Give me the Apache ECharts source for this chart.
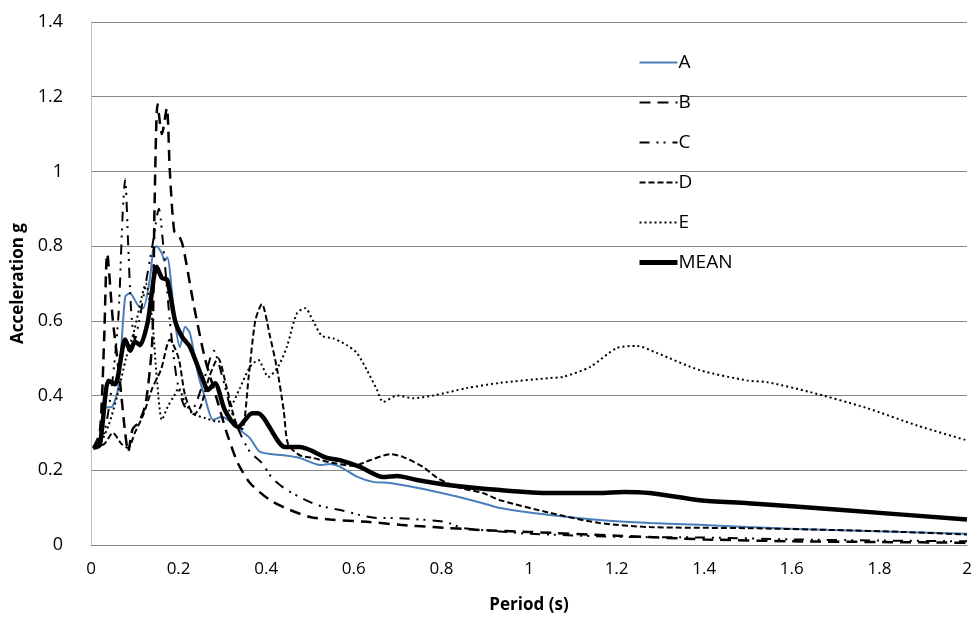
<!DOCTYPE html>
<html>
<head>
<meta charset="utf-8">
<script src="https://cdn.jsdelivr.net/npm/echarts@6/dist/echarts.min.js"></script>
<style>
  html, body { margin: 0; padding: 0; background: #fff; }
  #chart { width: 975px; height: 620px; }
</style>
</head>
<body>
<div id="chart"></div>
<script>
// period (s) and acceleration (g), one pair of arrays per record
var periodA = [0.005,0.016,0.032,0.048,0.062,0.078,0.089,0.107,0.119,0.135,0.142,0.15,0.162,0.168,0.174,0.192,0.203,0.215,0.226,0.244,0.26,0.279,0.299,0.322,0.345,0.363,0.386,0.44,0.477,0.523,0.546,0.568,0.607,0.644,0.683,0.744,0.82,0.895,0.934,1.048,1.16,1.276,1.39,1.5,1.69,2.0];
var accA    = [0.26,0.262,0.367,0.37,0.42,0.664,0.674,0.642,0.634,0.717,0.79,0.8,0.78,0.76,0.77,0.594,0.53,0.584,0.567,0.46,0.396,0.335,0.343,0.326,0.303,0.286,0.249,0.24,0.233,0.214,0.217,0.21,0.183,0.169,0.166,0.153,0.134,0.112,0.099,0.08,0.067,0.059,0.054,0.048,0.04,0.03];

var periodB = [0.005,0.02,0.03,0.037,0.05,0.065,0.078,0.085,0.095,0.11,0.125,0.14,0.145,0.152,0.162,0.173,0.18,0.19,0.2,0.21,0.235,0.26,0.285,0.31,0.335,0.363,0.409,0.454,0.5,0.546,0.63,0.705,0.78,0.895,1.0,1.2,1.4,1.6,1.8,2.0];
var accB    = [0.26,0.3,0.55,0.78,0.6,0.45,0.3,0.25,0.31,0.33,0.38,0.55,0.9,1.18,1.1,1.17,1.0,0.84,0.83,0.8,0.64,0.5,0.4,0.3,0.22,0.166,0.12,0.094,0.075,0.068,0.062,0.054,0.048,0.04,0.035,0.025,0.015,0.01,0.008,0.006];

var periodC = [0.005,0.03,0.05,0.063,0.072,0.078,0.085,0.092,0.1,0.11,0.125,0.14,0.155,0.165,0.18,0.195,0.21,0.226,0.24,0.26,0.28,0.3,0.32,0.34,0.363,0.39,0.413,0.44,0.477,0.516,0.546,0.58,0.614,0.655,0.69,0.728,0.808,0.85,0.95,1.0,1.2,1.4,1.6,1.8,2.0];
var accC    = [0.26,0.3,0.45,0.62,0.88,0.98,0.8,0.62,0.55,0.6,0.7,0.8,0.9,0.8,0.6,0.45,0.38,0.355,0.38,0.45,0.52,0.45,0.36,0.3,0.249,0.22,0.18,0.153,0.128,0.107,0.099,0.091,0.08,0.072,0.072,0.07,0.062,0.045,0.035,0.03,0.022,0.02,0.015,0.012,0.01];

var periodD = [0.005,0.03,0.05,0.07,0.085,0.1,0.12,0.14,0.16,0.18,0.2,0.215,0.235,0.25,0.27,0.29,0.31,0.33,0.345,0.36,0.375,0.39,0.409,0.425,0.44,0.45,0.477,0.507,0.55,0.6,0.637,0.683,0.712,0.758,0.79,0.836,0.895,0.934,1.048,1.16,1.276,1.5,1.7,1.85,2.0];
var accD    = [0.26,0.27,0.3,0.27,0.26,0.3,0.35,0.42,0.47,0.55,0.5,0.4,0.35,0.37,0.45,0.5,0.42,0.33,0.31,0.45,0.6,0.645,0.557,0.47,0.36,0.27,0.24,0.233,0.22,0.212,0.227,0.243,0.236,0.209,0.18,0.155,0.139,0.12,0.086,0.059,0.048,0.045,0.04,0.035,0.028];

var periodE = [0.005,0.02,0.04,0.06,0.08,0.1,0.115,0.125,0.14,0.15,0.162,0.175,0.19,0.2,0.215,0.235,0.26,0.29,0.315,0.34,0.363,0.382,0.405,0.427,0.447,0.47,0.489,0.507,0.527,0.553,0.584,0.607,0.63,0.653,0.667,0.699,0.735,0.781,0.858,0.934,1.048,1.078,1.14,1.2,1.246,1.292,1.39,1.5,1.543,1.64,1.77,1.886,2.0];
var accE    = [0.26,0.27,0.32,0.4,0.5,0.58,0.66,0.7,0.6,0.45,0.335,0.37,0.4,0.42,0.38,0.35,0.34,0.33,0.36,0.42,0.477,0.495,0.45,0.477,0.53,0.62,0.634,0.6,0.56,0.553,0.535,0.514,0.468,0.415,0.383,0.4,0.393,0.4,0.42,0.434,0.447,0.45,0.477,0.527,0.533,0.514,0.468,0.44,0.436,0.41,0.367,0.32,0.28];

var periodMean = [0.005,0.02,0.04,0.055,0.078,0.09,0.1,0.112,0.13,0.15,0.162,0.174,0.192,0.208,0.226,0.253,0.267,0.283,0.306,0.336,0.368,0.381,0.443,0.477,0.539,0.568,0.614,0.667,0.699,0.744,0.82,0.934,1.048,1.16,1.215,1.276,1.39,1.5,1.7,2.0];
var accMean    = [0.26,0.268,0.44,0.43,0.55,0.52,0.545,0.535,0.6,0.745,0.715,0.71,0.6,0.557,0.53,0.45,0.415,0.433,0.36,0.316,0.353,0.353,0.262,0.262,0.233,0.227,0.209,0.182,0.185,0.174,0.16,0.147,0.139,0.139,0.142,0.139,0.12,0.112,0.095,0.068];

var names = ['A', 'B', 'C', 'D', 'E', 'MEAN'];

function pairs(xs, ys) {
  var out = [];
  for (var i = 0; i < xs.length; i++) out.push([xs[i], ys[i]]);
  return out;
}

function line(name, xs, ys, color, width, dash) {
  return {
    name: name,
    type: 'line',
    data: pairs(xs, ys),
    smooth: 0.25,
    symbol: 'none',
    lineStyle: { color: color, width: width, type: dash },
    itemStyle: { color: color }
  };
}

var myChart = echarts.init(document.getElementById('chart'));

var option = {
  backgroundColor: '#fff',
  animation: false,
  grid: { left: 91, right: 8, top: 22, bottom: 75 },
  legend: {
    data: names.map(function (n) {
      return n === 'MEAN' ? { name: n, lineStyle: { width: 5 } } : { name: n };
    }),
    orient: 'vertical',
    left: 632,
    top: 48,
    itemGap: 21,
    itemWidth: 38,
    itemHeight: 18,
    itemStyle: { opacity: 0 },
    textStyle: { fontFamily: 'Open Sans', fontSize: 19, color: '#000', padding: [0, 0, 0, -4] }
  },
  xAxis: {
    type: 'value',
    min: 0,
    max: 2,
    interval: 0.2,
    name: 'Period (s)',
    nameLocation: 'middle',
    nameGap: 52,
    nameTextStyle: { fontFamily: 'Open Sans', fontSize: 17, fontWeight: 'bold', color: '#000' },
    axisLine: { show: true, lineStyle: { color: '#868686', width: 1 } },
    axisTick: { show: false },
    splitLine: { show: false },
    axisLabel: {
      fontFamily: 'Open Sans', fontSize: 17, color: '#000', margin: 16,
      formatter: function (v) { return +v.toFixed(1) + ''; }
    }
  },
  yAxis: {
    type: 'value',
    min: 0,
    max: 1.4,
    interval: 0.2,
    name: 'Acceleration g',
    nameLocation: 'middle',
    nameGap: 60,
    nameTextStyle: { fontFamily: 'Open Sans', fontSize: 17, fontWeight: 'bold', color: '#000' },
    axisLine: { show: true, lineStyle: { color: '#bfbfbf', width: 1 } },
    axisTick: { show: false },
    splitLine: { lineStyle: { color: '#868686', width: 1 } },
    axisLabel: {
      fontFamily: 'Open Sans', fontSize: 18, color: '#000', margin: 28,
      formatter: function (v) { return +v.toFixed(1) + ''; }
    }
  },
  series: [
    line('A', periodA, accA, '#4a7ebb', 2, 'solid'),
    line('B', periodB, accB, '#000', 2.5, [11, 7]),
    line('C', periodC, accC, '#000', 2, [10, 7, 2, 5, 2, 7]),
    line('D', periodD, accD, '#000', 2, [6, 3]),
    line('E', periodE, accE, '#000', 2, [2, 3]),
    line('MEAN', periodMean, accMean, '#000', 4.5, 'solid')
  ]
};

myChart.setOption(option);
</script>
</body>
</html>
